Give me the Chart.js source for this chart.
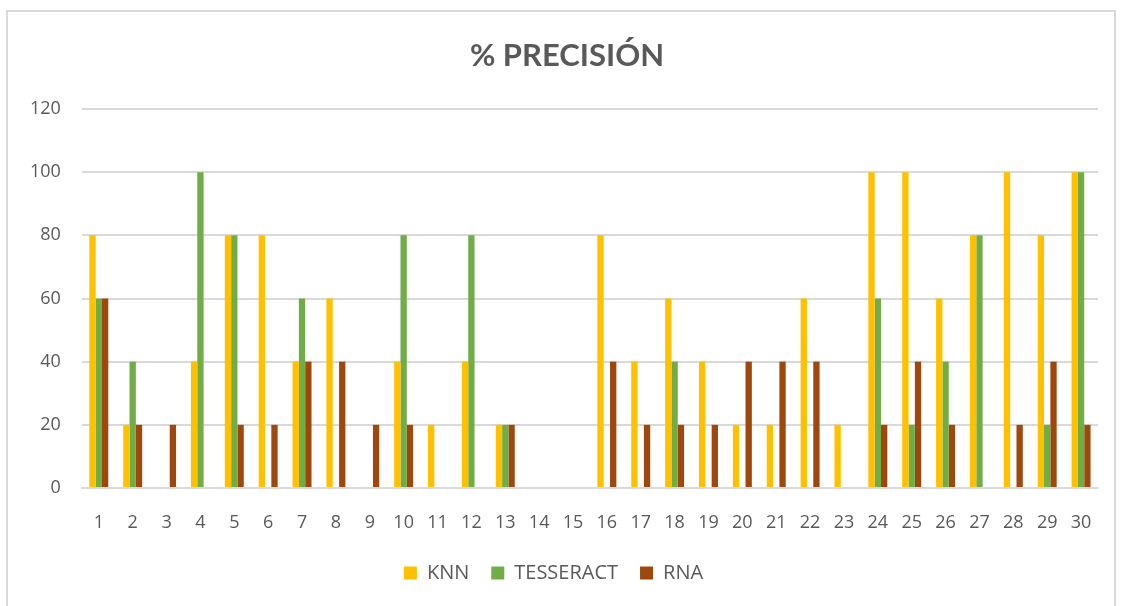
<!DOCTYPE html>
<html>
<head>
<meta charset="utf-8">
<script src="https://cdn.jsdelivr.net/npm/chart.js@4/dist/chart.umd.min.js"></script>
<style>
  html, body { margin: 0; padding: 0; background: #fff; }
  #frame {
    position: absolute; left: 6px; top: 10px; width: 1110px; height: 600px;
    border: 2px solid #d9d9d9; box-sizing: border-box; background: #fff;
  }
  #wrap { position: absolute; left: 0; top: 0; width: 1122px; height: 606px; }
</style>
</head>
<body>
<div id="frame"></div>
<div id="wrap"><canvas id="chart" width="1122" height="606"></canvas></div>
<script>
// Muestras 1..30 y precisión (%) de cada método
const categories = ['1','2','3','4','5','6','7','8','9','10','11','12','13','14','15',
                    '16','17','18','19','20','21','22','23','24','25','26','27','28','29','30'];
const knn       = [80,20,0,40,80,80,40,60,0,40,20,40,20,0,0,80,40,60,40,20,20,60,20,100,100,60,80,100,80,100];
const tesseract = [60,40,0,100,80,0,60,0,0,80,0,80,20,0,0,0,0,40,0,0,0,0,0,60,20,40,80,0,20,100];
const rna       = [60,20,20,0,20,20,40,40,20,20,0,0,20,0,0,40,20,20,20,40,40,40,0,20,40,20,0,20,40,20];
const yTicks    = [0,20,40,60,80,100,120];
const titleText = '% PRECISIÓN';

const textColor = '#595959';
const fontFamily = '"Open Sans", Lato, "Liberation Sans", sans-serif';

// Título centrado sobre el lienzo, en el espacio reservado arriba
const titlePlugin = {
  id: 'centeredTitle',
  afterDraw(chart) {
    const ctx = chart.ctx;
    ctx.save();
    ctx.fillStyle = textColor;
    ctx.font = 'bold 31px Lato, "Open Sans", sans-serif';
    ctx.textAlign = 'center';
    ctx.textBaseline = 'middle';
    ctx.fillText(titleText, 567, 56);
    ctx.restore();
  }
};

new Chart(document.getElementById('chart'), {
  type: 'bar',
  data: {
    labels: categories,
    datasets: [
      { label: 'KNN', data: knn, backgroundColor: '#ffc000' },
      { label: 'TESSERACT', data: tesseract, backgroundColor: '#70ad47' },
      { label: 'RNA', data: rna, backgroundColor: '#9e480e' }
    ]
  },
  plugins: [titlePlugin],
  options: {
    responsive: false,
    animation: false,
    devicePixelRatio: 1,
    layout: { padding: { left: 9, right: 24, top: 109, bottom: 13 } },
    datasets: { bar: { categoryPercentage: 0.56, barPercentage: 1.0 } },
    plugins: {
      title: { display: false },
      legend: {
        position: 'bottom',
        labels: {
          color: textColor,
          font: { family: fontFamily, size: 20 },
          boxWidth: 13, boxHeight: 13, padding: 22
        }
      },
      tooltip: { enabled: false }
    },
    scales: {
      x: {
        grid: { display: false, drawTicks: false },
        border: { color: '#d9d9d9', width: 2 },
        ticks: { color: textColor, font: { family: fontFamily, size: 18 }, padding: 24, maxRotation: 0, autoSkip: false },
        afterFit: (axis) => { axis.height = 53; }
      },
      y: {
        min: 0, max: 120,
        afterBuildTicks: (axis) => { axis.ticks = yTicks.map(v => ({ value: v })); },
        grid: { color: '#d9d9d9', lineWidth: 2, drawTicks: false },
        border: { display: false },
        ticks: { color: textColor, font: { family: fontFamily, size: 18 }, padding: 21 }
      }
    }
  }
});
</script>
</body>
</html>
